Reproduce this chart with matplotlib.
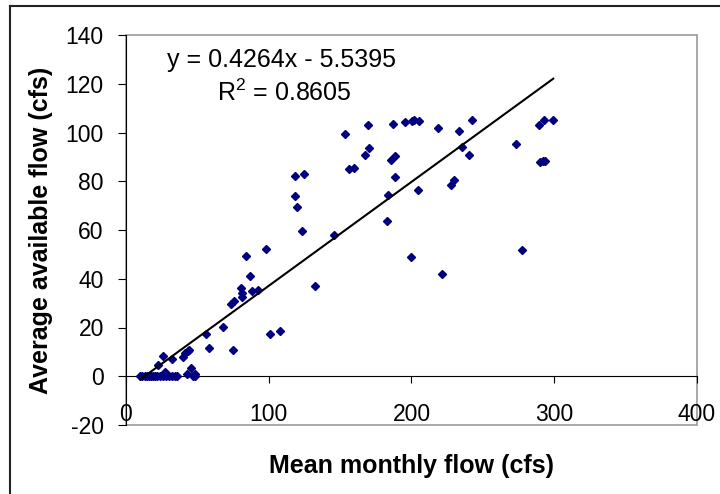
import matplotlib
matplotlib.use("Agg")
import matplotlib.pyplot as plt
from matplotlib.patches import Rectangle
from matplotlib.lines import Line2D

# mean monthly flow (cfs)
MEAN_FLOW = [10, 11.5, 13, 14.5, 16, 17.5, 19, 20.5, 22, 24, 26, 28, 30, 32,
             34.5, 36,
             27.3, 43, 48.3, 48.5, 47, 45.3,
             22.3, 25.7, 32, 39.7, 41.1, 43.2, 44,
             56, 58, 67.7, 74.7, 73.8, 76,
             80.8, 81, 81.3, 88, 92.7, 84.1, 87.1, 98.1,
             100.8, 107.9, 118.5, 124.5, 118.6, 119.8, 123.2, 132.3, 145.9,
             153.5, 156.4, 159.9, 167.4, 170.5, 169.8,
             186.8, 185.4, 188.7, 188.7, 183.3, 182.6,
             195.2, 200.4, 202.1, 205.3, 204.7, 199.5,
             218.6, 221.6, 227.5, 230.0, 233.0, 235.4, 240.3, 242.4,
             273.2, 277.4, 289.3, 292.8, 299.3, 290.0, 291.9, 293.3]

# average available flow (cfs)
AVAIL_FLOW = [0, 0, 0, 0, 0, 0, 0, 0, 0, 0, 0, 0, 0, 0,
              0, 0,
              1.8, 1.1, 1.1, 0, 0.3, 3.4,
              4.7, 8.2, 7.1, 7.9, 9.6, 10.4, 10.7,
              17.4, 11.4, 20.1, 10.8, 29.8, 30.8,
              36.1, 34.3, 32.5, 34.9, 35.3, 49.3, 41.3, 52.4,
              17.5, 18.6, 82.2, 82.8, 73.9, 69.4, 59.5, 36.9, 57.9,
              99.3, 85.0, 85.5, 90.7, 93.7, 103.0,
              103.4, 88.9, 90.2, 81.6, 74.3, 63.6,
              104.3, 104.6, 105.2, 104.7, 76.4, 48.9,
              101.8, 42.0, 78.4, 80.5, 100.8, 94.0, 90.6, 105.0,
              95.1, 51.9, 102.9, 105.0, 105.0, 87.8, 88.3, 88.4]

# linear trendline as reported on the chart
SLOPE = 0.4264
INTERCEPT = -5.5395
R_SQUARED = 0.8605

X_TICKS = [0, 100, 200, 300, 400]
Y_TICKS = [-20, 0, 20, 40, 60, 80, 100, 120, 140]

FONT = "Liberation Sans"


def plot_flows(x, y):
    """scatter of available vs mean flow with linear trendline

    Args:
        x (list): mean monthly flow values
        y (list): average available flow values
    """
    # plain hyphen for negatives, like the original
    plt.rcParams["axes.unicode_minus"] = False
    plt.rcParams["mathtext.fontset"] = "custom"
    plt.rcParams["mathtext.rm"] = FONT

    fig = plt.figure(figsize=(7.2, 4.94), dpi=100)
    ax = fig.add_axes([126 / 720, 1 - 425 / 494, 571 / 720, 390 / 494])

    # data points - navy diamonds
    ax.plot(x, y, linestyle="none", marker="D", markersize=4.5,
            color="#000080", zorder=3)

    # trendline across data range
    x_fit = [min(x), max(x)]
    y_fit = [SLOPE * v + INTERCEPT for v in x_fit]
    ax.plot(x_fit, y_fit, color="black", linewidth=1.5, zorder=4)

    ax.set_xlim(0, 400)
    ax.set_ylim(-20, 140)
    ax.set_xticks(X_TICKS)
    ax.set_yticks(Y_TICKS)

    # x axis crosses at y = 0, gray frame around plot area
    ax.spines["bottom"].set_position(("data", 0))
    ax.spines["bottom"].set_color("black")
    ax.spines["left"].set_color("black")
    ax.spines["top"].set_visible(False)
    ax.spines["right"].set_visible(False)
    ax.add_patch(Rectangle((0, 0), 1, 1, transform=ax.transAxes, fill=False,
                           edgecolor="#999999", linewidth=1.2, zorder=1,
                           clip_on=False))

    ax.tick_params(axis="x", direction="out", length=5, pad=14,
                   labelsize=16.5)
    ax.tick_params(axis="y", direction="out", length=6, pad=10,
                   labelsize=16.5)
    for lbl in ax.get_xticklabels() + ax.get_yticklabels():
        lbl.set_fontfamily(FONT)

    # axis titles
    ax.set_xlabel("Mean monthly flow (cfs)", fontsize=18, fontweight="bold",
                  fontfamily=FONT)
    ax.xaxis.set_label_coords(0.5, -(466 - 425) / 390, transform=ax.transAxes)
    ax.xaxis.label.set_va("center")
    ax.set_ylabel("Average available flow (cfs)", fontsize=18,
                  fontweight="bold", fontfamily=FONT)
    ax.yaxis.set_label_coords(-(126 - 41) / 571, 0.5)
    ax.yaxis.label.set_va("center")

    # trendline equation
    ax.text((167 - 126) / 571, (425 - 67) / 390,
            "y = %.4fx - %.4f" % (SLOPE, -INTERCEPT), transform=ax.transAxes,
            fontsize=18, fontfamily=FONT, va="baseline")
    ax.text((217 - 126) / 571, (425 - 101) / 390,
            r"R$^\mathregular{2}$ = %.4f" % R_SQUARED, transform=ax.transAxes,
            fontsize=18, fontfamily=FONT, va="baseline")

    # outer chart border (runs off right/bottom edges)
    fig.add_artist(Line2D([10 / 720, 1.0], [1 - 6 / 494, 1 - 6 / 494],
                          transform=fig.transFigure, color="#222222",
                          linewidth=1.5))
    fig.add_artist(Line2D([10 / 720, 10 / 720], [0.0, 1 - 6 / 494],
                          transform=fig.transFigure, color="#222222",
                          linewidth=1.5))

    fig.savefig("out.png", dpi=100)


if __name__ == '__main__':
    plot_flows(MEAN_FLOW, AVAIL_FLOW)
